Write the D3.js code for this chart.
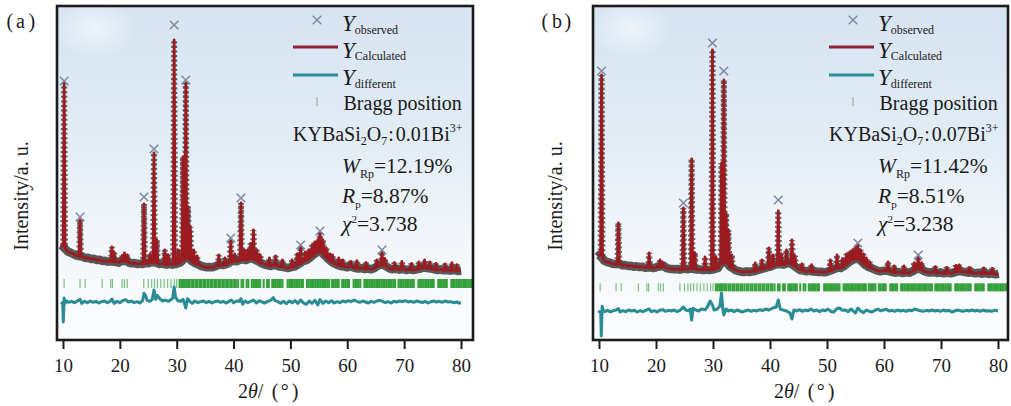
<!DOCTYPE html>
<html>
<head>
<meta charset="utf-8">
<script src="https://cdn.jsdelivr.net/npm/d3@7"></script>
<style>
  html, body { margin: 0; padding: 0; background: #fff; }
  svg { display: block; }
</style>
</head>
<body>
<svg id="chart" width="1011" height="406"></svg>
<script>
// ---------------- data ----------------
const xTicks = [10, 20, 30, 40, 50, 60, 70, 80];
const panelTags = ["a", "b"];
const biContent = ["0.01", "0.07"];
const wRp = ["12.19", "11.42"];
const rP = ["8.87", "8.51"];
const chi2 = ["3.738", "3.238"];

// calculated background between reflections, [2θ, intensity]
const bgA = [
  [9.6,285],[9.9,282],[10.45,272],[10.8,266],[11.3,262],[11.8,258],[12.3,254],[12.7,252],[13.4,250],
  [13.9,246],[14.4,247],[14.9,243],[15.4,244],[15.9,240],[16.4,241],[16.9,237],[17.4,238],[17.9,235],
  [18.3,236],[19.4,234],[19.8,232],[20.1,236],[21.0,238],[21.6,232],[22.1,230],[22.6,231],[23.1,228],
  [23.6,229],[24.0,228],[24.6,232],[25.0,230],[25.6,234],[26.25,233],[26.9,228],[27.4,230],[28.2,226],
  [28.9,228],[29.25,226],[29.9,228],[30.6,232],[30.85,236],[31.35,245],[31.8,250],[32.2,244],[32.7,236],
  [33.3,230],[33.9,226],[34.3,222],[34.8,220],[35.3,218],[35.8,219],[36.3,218],[36.8,221],[37.1,224],
  [37.8,226],[38.2,225],[38.8,228],[39.2,232],[39.85,238],[40.6,236],[40.95,240],[41.6,242],[42.2,240],
  [42.75,244],[43.25,246],[43.8,240],[44.4,236],[44.95,230],[45.5,226],[46.0,224],[46.6,222],[47.1,226],
  [47.8,222],[48.3,220],[49.0,218],[49.6,216],[50.0,218],[50.6,220],[50.95,222],[51.5,228],[52.2,236],
  [52.9,240],[53.5,248],[54.05,256],[54.55,262],[55.0,266],[55.45,264],[56.0,254],[56.6,244],[57.15,236],
  [57.7,230],[58.2,226],[58.8,222],[59.5,220],[60.0,218],[60.3,222],[61.0,218],[61.4,216],[62.0,214],
  [62.6,216],[63.0,213],[63.6,215],[64.2,212],[64.8,216],[65.5,224],[65.8,226],[66.35,226],[66.9,220],
  [67.5,214],[68.0,212],[68.6,214],[69.2,211],[69.9,213],[70.4,210],[71.0,212],[71.6,210],[72.2,212],
  [72.9,214],[73.3,218],[74.0,216],[74.8,214],[75.3,212],[75.9,210],[76.4,212],[77.0,209],[77.6,210],
  [78.1,208],[78.8,210],[79.6,207],[80.0,208]
];
// calculated reflections, [2θ, peak intensity, foot intensity]
const peaksA = [
  [10.2,771,285],[13.0,360,250],[18.6,279,236],[19.0,262,235],[20.4,252,236],[20.8,261,237],[21.3,255,236],
  [24.25,408,229],[25.3,258,231],[26.0,561,233],[26.5,300,232],[27.9,270,228],[28.5,255,227],[29.55,900,228],
  [30.3,270,230],[31.1,549,238],[31.6,771,245],[32.0,400,248],[32.4,339,240],[33.0,270,232],[33.6,252,228],
  [37.4,255,224],[38.5,246,226],[39.5,300,234],[40.2,258,237],[41.3,411,240],[41.9,270,241],[42.5,270,242],
  [43.0,290,244],[43.5,330,244],[44.1,270,238],[44.7,255,232],[46.3,246,223],[47.4,252,224],[48.6,240,219],
  [50.3,240,219],[51.2,258,225],[51.8,279,230],[52.6,264,238],[53.2,270,244],[53.8,285,252],[54.3,294,259],
  [54.8,300,264],[55.2,321,265],[55.7,300,260],[56.3,276,250],[56.9,258,240],[57.4,255,233],[58.5,246,224],
  [59.2,240,221],[60.6,236,220],[61.7,238,216],[63.3,232,214],[65.2,240,220],[66.1,264,225],[66.6,245,224],
  [68.3,232,213],[69.6,236,212],[71.3,230,211],[72.6,234,213],[73.6,240,217],[74.5,234,215],[75.6,230,211],
  [77.2,228,209],[78.4,232,209],[79.3,226,208]
];
// observed maxima drawn as ×, [2θ, intensity]
const obsTopA = [
  [10.2,777],[13.0,369],[24.25,429],[26.0,573],[29.55,945],[31.6,780],[39.5,306],[41.3,426],
  [51.8,285],[55.2,327],[66.1,270]
];
// Yobs − Ycalc, [2θ, residual]
const diffA = [
  [9.65,0],[9.95,-5],[10.05,-60],[10.2,12],[10.4,-3],[10.7,3],[11.0,-1],[11.5,2],[12.0,-2],[12.5,3],
  [13.0,8],[13.3,-4],[13.8,2],[14.3,-2],[14.8,3],[15.3,-1],[15.8,2],[16.3,-3],[16.8,1],[17.3,3],[17.8,-2],
  [18.3,2],[18.6,9],[19.0,-4],[19.5,2],[20.0,-2],[20.5,4],[21.0,7],[21.5,0],[22.0,3],[22.5,-2],[23.0,1],
  [23.5,-3],[24.0,4],[24.25,26],[24.5,20],[24.8,5],[25.3,2],[25.7,8],[26.0,36],[26.3,8],[26.6,20],[27.0,10],
  [27.5,3],[28.0,6],[28.5,2],[29.0,7],[29.3,12],[29.55,45],[29.8,14],[30.2,4],[30.7,2],[31.1,8],[31.4,-6],
  [31.6,-18],[31.9,10],[32.3,2],[32.7,-4],[33.2,3],[33.7,-2],[34.2,1],[34.7,3],[35.2,-2],[35.7,2],[36.2,-3],
  [36.7,1],[37.2,3],[37.7,-1],[38.2,2],[38.7,-3],[39.2,2],[39.6,6],[40.0,-2],[40.5,3],[41.0,2],[41.3,10],
  [41.6,-7],[42.0,3],[42.5,-2],[43.0,2],[43.5,6],[44.0,-3],[44.5,4],[45.0,0],[45.5,-3],[46.0,2],[46.5,5],
  [47.0,13],[47.3,4],[47.8,1],[48.3,-4],[48.8,2],[49.3,-5],[49.8,3],[50.3,-2],[50.8,4],[51.3,-4],[51.8,6],
  [52.3,-3],[52.8,-7],[53.3,3],[53.8,-4],[54.3,5],[54.8,-9],[55.2,7],[55.7,-4],[56.2,3],[56.7,-2],[57.2,4],
  [57.7,-3],[58.2,1],[58.7,-2],[59.2,3],[59.7,0],[60.2,4],[60.7,1],[61.2,6],[61.7,2],[62.2,-1],[62.7,3],
  [63.2,0],[63.7,-3],[64.2,2],[64.7,-1],[65.2,3],[65.7,5],[66.2,2],[66.7,-2],[67.2,1],[67.7,-3],[68.2,2],
  [68.7,0],[69.2,3],[69.7,1],[70.2,4],[70.7,0],[71.2,2],[71.7,-1],[72.2,3],[72.7,1],[73.2,-2],[73.7,2],
  [74.2,-3],[74.7,1],[75.2,3],[75.7,0],[76.2,2],[76.7,-1],[77.2,3],[77.7,0],[78.2,1],[78.7,-2],[79.2,0],
  [79.7,-3],[80.0,-2]
];

const bgB = [
  [9.8,250],[10.05,255],[10.75,242],[10.9,238],[11.4,234],[11.9,232],[12.4,229],[12.9,228],[13.8,227],
  [14.1,224],[14.6,225],[15.1,222],[15.6,223],[16.1,220],[16.6,221],[17.1,219],[17.6,220],[18.1,217],
  [19.1,218],[19.5,216],[19.9,217],[20.3,220],[21.4,222],[21.8,216],[22.3,214],[22.8,213],[23.3,212],
  [23.8,213],[24.2,211],[25.2,214],[25.6,212],[25.9,215],[27.2,211],[27.6,212],[28.2,210],[29.0,211],
  [29.4,210],[30.2,212],[30.9,216],[31.15,224],[31.7,236],[32.1,236],[32.5,230],[33.0,220],[33.6,214],
  [33.9,210],[34.4,207],[34.9,205],[35.4,204],[35.9,206],[36.4,204],[36.9,206],[37.1,206],[37.9,210],
  [38.3,212],[39.2,216],[39.5,218],[40.1,220],[40.9,226],[41.7,228],[42.4,226],[42.65,228],[43.2,232],
  [43.5,230],[44.1,224],[44.9,214],[45.3,210],[45.9,208],[46.4,206],[46.9,208],[47.6,205],[47.9,206],
  [48.5,204],[49.0,205],[49.6,203],[50.2,206],[50.9,210],[51.4,214],[52.1,218],[52.4,216],[53.0,222],
  [53.7,232],[54.25,238],[54.75,242],[55.2,244],[55.65,242],[56.15,234],[56.65,226],[57.2,220],[57.8,216],
  [58.3,212],[58.8,208],[59.4,206],[60.0,208],[60.4,208],[61.0,206],[61.4,204],[62.0,202],[62.6,204],
  [63.2,201],[63.8,203],[64.4,202],[65.0,206],[65.6,212],[66.3,214],[66.9,208],[67.5,204],[68.1,202],
  [68.7,204],[69.3,201],[69.9,203],[70.5,200],[71.3,202],[71.7,200],[72.3,203],[72.9,206],[73.6,206],
  [74.2,204],[74.8,202],[75.4,203],[76.0,200],[76.6,202],[77.2,199],[77.8,201],[78.4,198],[78.8,200],
  [79.6,197],[80.1,199]
];
const peaksB = [
  [10.45,795,255],[13.4,351,228],[18.8,261,217],[20.7,240,219],[21.1,234,220],[24.8,396,212],[26.25,543,214],
  [26.8,262,214],[28.6,249,211],[29.9,870,211],[30.5,250,214],[31.5,531,226],[31.9,780,234],[32.3,380,234],
  [32.7,330,228],[33.3,255,216],[37.4,231,206],[38.6,240,212],[39.8,276,216],[40.5,255,222],[41.45,387,226],
  [42.0,258,227],[42.9,270,230],[43.85,300,228],[44.4,252,222],[45.6,228,210],[47.3,226,205],[50.6,240,208],
  [51.75,255,216],[52.7,244,219],[53.4,258,228],[54.0,264,236],[54.5,270,241],[55.0,276,244],[55.4,285,243],
  [55.9,270,238],[56.4,258,230],[56.9,246,223],[57.5,234,217],[60.7,234,208],[61.8,222,203],[63.5,222,202],
  [65.3,232,210],[66.0,249,213],[66.6,232,212],[69.0,220,203],[71.0,218,201],[72.6,224,205],[73.2,225,206],
  [75.0,218,202],[77.5,216,200],[79.0,215,200]
];
const obsTopB = [
  [10.45,807],[24.8,411],[29.9,891],[31.9,807],[41.45,420],[55.4,291],[66.0,255]
];
const diffB = [
  [9.85,0],[10.3,-4],[10.4,-75],[10.55,14],[10.75,2],[11.0,-2],[11.5,2],[12.0,-3],[12.5,1],[13.0,3],
  [13.4,7],[13.7,-3],[14.2,1],[14.7,-2],[15.2,3],[15.7,0],[16.2,2],[16.7,-3],[17.2,1],[17.7,-2],[18.2,2],
  [18.8,6],[19.2,-2],[19.7,1],[20.2,-3],[20.7,3],[21.2,4],[21.7,-1],[22.2,2],[22.7,0],[23.2,3],[23.7,-2],
  [24.2,2],[24.8,12],[25.2,3],[25.7,1],[26.0,6],[26.25,-27],[26.5,8],[27.0,3],[27.5,0],[28.0,6],[28.6,4],
  [29.0,12],[29.5,30],[29.9,18],[30.2,3],[30.7,5],[31.2,14],[31.5,54],[31.7,9],[31.9,-12],[32.3,6],[32.7,0],
  [33.2,3],[33.7,-2],[34.2,3],[34.7,0],[35.2,-3],[35.7,1],[36.2,3],[36.7,-1],[37.2,2],[37.7,0],[38.2,4],
  [38.7,1],[39.2,6],[39.8,3],[40.5,9],[41.1,12],[41.45,33],[41.8,6],[42.3,3],[42.9,0],[43.5,-6],[43.85,-24],
  [44.2,3],[44.7,0],[45.2,4],[45.7,-1],[46.2,3],[46.7,1],[47.2,6],[47.7,0],[48.2,3],[48.7,-2],[49.2,3],
  [49.7,1],[50.2,6],[50.7,-2],[51.2,-3],[51.7,7],[52.2,9],[52.7,2],[53.2,3],[53.7,-2],[54.2,6],[54.7,-1],
  [55.0,-6],[55.4,9],[55.9,0],[56.4,-5],[56.9,3],[57.4,-1],[57.9,-3],[58.4,2],[58.9,6],[59.4,1],[59.9,3],
  [60.4,5],[60.9,0],[61.4,2],[61.9,-1],[62.4,3],[62.9,0],[63.4,2],[63.9,-1],[64.4,3],[64.9,1],[65.4,6],
  [65.9,3],[66.4,1],[66.9,-1],[67.4,2],[67.9,0],[68.4,3],[68.9,0],[69.4,2],[69.9,-1],[70.4,3],[70.9,0],
  [71.4,2],[71.9,-3],[72.4,0],[72.9,3],[73.4,1],[73.9,-1],[74.4,2],[74.9,0],[75.4,3],[75.9,0],[76.4,2],
  [76.9,-1],[77.4,3],[77.9,0],[78.4,1],[78.9,-1],[79.4,2],[80.0,0]
];

// reflection positions of the KYBaSi2O7 phase (2θ)
const braggPos = [
  10.2,13.0,13.9,16.9,18.4,18.7,20.4,20.8,21.3,24.2,25.0,25.6,26.1,26.6,27.2,27.8,28.4,29.0,29.6,30.0,
  30.5,30.8,31.1,31.4,31.7,32.0,32.3,32.7,33.0,33.4,33.7,34.1,34.4,34.8,35.1,35.5,35.9,36.2,36.6,36.9,
  37.3,37.6,38.0,38.3,38.7,39.0,39.4,39.7,40.1,40.4,40.8,41.4,41.7,42.3,42.6,43.2,43.5,43.8,44.1,44.4,
  44.7,45.3,45.9,46.2,46.8,47.1,47.4,47.7,48.0,48.3,48.6,49.5,49.8,50.1,50.4,50.7,51.0,51.3,51.6,51.9,
  52.2,52.9,53.2,53.5,53.8,54.1,54.4,54.7,55.0,55.3,55.6,55.9,56.2,56.5,56.8,57.3,57.6,57.9,58.2,58.5,
  59.1,59.4,59.7,60.0,60.3,61.1,61.4,61.7,62.0,62.3,63.0,63.3,63.6,63.9,64.2,64.5,64.8,65.1,65.4,65.7,
  66.0,66.3,66.6,66.9,67.2,67.5,67.8,68.1,68.4,69.0,69.3,69.6,69.9,70.2,70.5,70.8,71.1,71.4,71.7,72.5,
  72.8,73.1,73.4,73.7,74.0,74.3,74.6,74.9,75.2,76.0,76.3,76.6,76.9,77.2,77.5,78.3,78.6,78.9,79.2,79.5,
  79.8,80.1,80.4,80.7,81.0,81.3,81.6,81.9
];

// ---------------- drawing ----------------
const SERIF = "'Liberation Serif', 'DejaVu Serif', serif";
const svg = d3.select("#chart");
const defs = svg.append("defs");

const grad = defs.append("linearGradient").attr("id", "plotBg")
  .attr("x1", 0).attr("y1", 0).attr("x2", 0).attr("y2", 1);
[[0, "#d6e4f1"], [0.4, "#e2ecf5"], [0.7, "#f2f6fa"], [1, "#fcfdfe"]]
  .forEach(([o, c]) => grad.append("stop").attr("offset", o).attr("stop-color", c));

const haze = defs.append("radialGradient").attr("id", "haze");
haze.append("stop").attr("offset", 0).attr("stop-color", "#ffffff").attr("stop-opacity", 0.55);
haze.append("stop").attr("offset", 1).attr("stop-color", "#ffffff").attr("stop-opacity", 0);

const panels = [
  { dx: 0,   frame: [57, 473],  xr: [63, 461],  bg: bgA, peaks: peaksA, tops: obsTopA, diff: diffA,
    diffBase: 114, bragg: [156, 183], yLabelX: 28 },
  { dx: 536, frame: [593, 1008], xr: [599, 998], bg: bgB, peaks: peaksB, tops: obsTopB, diff: diffB,
    diffBase: 87,  bragg: [146, 170], yLabelX: 562 }
];

const TOP = 6, BOTTOM = 340;
const DELTA = 0.16;           // half base width of a drawn reflection, in degrees
const RED = "#9c1b20", TEAL = "#2a8c94", GREEN = "#34a03a", XCOL = "#7d8ca4";

function crossPath(s) { return `M${-s},${-s}L${s},${s}M${-s},${s}L${s},${-s}`; }

function profile(bg, peaks) {
  const verts = bg.filter(d => !peaks.some(p => Math.abs(p[0] - d[0]) < DELTA + 0.03)).slice();
  peaks.forEach(p => verts.push([p[0] - DELTA, p[2]], [p[0], p[1]], [p[0] + DELTA, p[2]]));
  return verts.sort((a, b) => a[0] - b[0]);
}

panels.forEach((p, i) => {
  const x = d3.scaleLinear().domain([10, 80]).range(p.xr);
  const y = d3.scaleLinear().domain([0, 1002]).range([BOTTOM, TOP]);
  const g = svg.append("g");
  const [fx0, fx1] = p.frame;

  // plot background and soft haze patch
  g.append("rect").attr("x", fx0).attr("y", TOP).attr("width", fx1 - fx0).attr("height", BOTTOM - TOP)
    .attr("fill", "url(#plotBg)");
  g.append("ellipse").attr("cx", fx0 + 38).attr("cy", TOP + 22).attr("rx", 42).attr("ry", 30)
    .attr("fill", "url(#haze)");

  const clipId = "clip" + i;
  defs.append("clipPath").attr("id", clipId).append("rect")
    .attr("x", fx0).attr("y", TOP).attr("width", fx1 - fx0).attr("height", BOTTOM - TOP);
  const plot = g.append("g").attr("clip-path", `url(#${clipId})`);

  // Bragg reflection markers
  plot.append("g").selectAll("line").data(braggPos).join("line")
    .attr("x1", d => x(d)).attr("x2", d => x(d))
    .attr("y1", y(p.bragg[1])).attr("y2", y(p.bragg[0]))
    .attr("stroke", d => d < 30.3 ? "#7cbf7e" : GREEN)
    .attr("stroke-width", d => d < 30.3 ? 1.2 : 2);

  // difference curve
  plot.append("path").datum(p.diff)
    .attr("d", d3.line().x(d => x(d[0])).y(d => y(d[1] + p.diffBase)))
    .attr("fill", "none").attr("stroke", TEAL).attr("stroke-width", 3)
    .attr("stroke-linejoin", "round");

  // observed scatter band along the background
  plot.append("path").datum(p.bg)
    .attr("d", d3.line().x(d => x(d[0])).y(d => y(d[1])))
    .attr("fill", "none").attr("stroke", "#484646").attr("stroke-width", 8.5)
    .attr("stroke-linejoin", "round").attr("opacity", 0.9);

  // observed points on the reflection flanks
  plot.append("g").selectAll("path").data(p.peaks).join("path")
    .attr("d", d => `M${x(d[0] - DELTA)},${y(d[2])}L${x(d[0])},${y(d[1])}L${x(d[0] + DELTA)},${y(d[2])}`)
    .attr("fill", "none").attr("stroke", "#454545").attr("stroke-width", 6)
    .attr("stroke-dasharray", "2 2.6").attr("opacity", 0.8);

  // calculated profile
  plot.append("path").datum(profile(p.bg, p.peaks))
    .attr("d", d3.line().x(d => x(d[0])).y(d => y(d[1])))
    .attr("fill", "none").attr("stroke", RED).attr("stroke-width", 2.8)
    .attr("stroke-linejoin", "round");

  // observed maxima
  plot.append("g").selectAll("path").data(p.tops).join("path")
    .attr("transform", d => `translate(${x(d[0])},${y(d[1])})`)
    .attr("d", crossPath(4.3)).attr("stroke", XCOL).attr("stroke-width", 1.6).attr("fill", "none");

  // frame
  g.append("rect").attr("x", fx0).attr("y", TOP).attr("width", fx1 - fx0).attr("height", BOTTOM - TOP)
    .attr("fill", "none").attr("stroke", "#1c1c1c").attr("stroke-width", 2.6);

  // x axis
  const ax = g.append("g").attr("transform", `translate(0,${BOTTOM})`)
    .call(d3.axisBottom(x).tickValues(xTicks).tickSize(9).tickPadding(10).tickFormat(d3.format("d")));
  ax.attr("font-family", null).attr("font-size", null);
  ax.select(".domain").remove();
  ax.selectAll(".tick line").attr("stroke", "#1c1c1c").attr("stroke-width", 2);
  ax.selectAll(".tick text").attr("font-size", 19).attr("fill", "#1a1a1a");

  // axis titles
  const xt = g.append("text").attr("x", 238 + p.dx).attr("y", 398).attr("font-size", 20);
  xt.append("tspan").text("2");
  xt.append("tspan").attr("font-style", "italic").text("θ");
  xt.append("tspan").text("/");
  xt.append("tspan").attr("dx", 8.4).text("(");
  xt.append("tspan").attr("dx", 2.3).text("°");
  xt.append("tspan").attr("dx", 3).text(")");

  g.append("text").attr("transform", `translate(${p.yLabelX},196) rotate(-90)`)
    .attr("text-anchor", "middle").attr("font-size", 20).text("Intensity/a. u.");

  // panel tag
  const tg = g.append("text").attr("y", 27.5).attr("font-size", 20);
  tg.append("tspan").attr("x", 6.5 + p.dx - (i ? 1 : 0)).text("(");
  tg.append("tspan").attr("x", 16 + p.dx).text(panelTags[i]);
  tg.append("tspan").attr("x", 28.5 + p.dx).text(")");

  // legend and refinement figures
  const lg = g.append("g");
  const tx = 342 + p.dx, ix = 317 + p.dx, lx0 = 293 + p.dx, lx1 = 338 + p.dx;
  function yEntry(yb, sub) {
    const t = lg.append("text").attr("x", tx).attr("y", yb);
    t.append("tspan").attr("font-style", "italic").attr("font-size", 23).text("Y");
    t.append("tspan").attr("font-size", 12).attr("dy", 2.5).text(sub);
  }
  lg.append("path").attr("transform", `translate(${ix},20)`).attr("d", crossPath(4.3))
    .attr("stroke", XCOL).attr("stroke-width", 1.5).attr("fill", "none");
  yEntry(31, "observed");
  lg.append("line").attr("x1", lx0).attr("x2", lx1).attr("y1", 47).attr("y2", 47)
    .attr("stroke", "#8a2536").attr("stroke-width", 3);
  yEntry(57.5, "Calculated");
  lg.append("line").attr("x1", lx0).attr("x2", lx1).attr("y1", 75).attr("y2", 75)
    .attr("stroke", TEAL).attr("stroke-width", 3);
  yEntry(85, "different");
  lg.append("line").attr("x1", ix).attr("x2", ix).attr("y1", 97).attr("y2", 106)
    .attr("stroke", "#a6b8a8").attr("stroke-width", 1.4);
  lg.append("text").attr("x", tx + 1.5).attr("y", 109.5).attr("font-size", 20).text("Bragg position");

  const f = lg.append("text").attr("x", lx0).attr("y", 141).attr("font-size", 20);
  f.append("tspan").text("KYBaSi");
  f.append("tspan").attr("font-size", 12).attr("dy", 4).text("2");
  f.append("tspan").attr("dy", -4).text("O");
  f.append("tspan").attr("font-size", 12).attr("dy", 4).text("7");
  f.append("tspan").attr("dy", -4).attr("dx", 1).text(":");
  f.append("tspan").attr("dx", 2).text(biContent[i] + "Bi");
  f.append("tspan").attr("font-size", 12).attr("dy", -9).text("3+");

  const w = lg.append("text").attr("x", tx).attr("y", 173).attr("font-size", 21.5);
  w.append("tspan").attr("font-style", "italic").text("W");
  w.append("tspan").attr("font-size", 12).attr("dy", 5).text("Rp");
  w.append("tspan").attr("dy", -5).text("=" + wRp[i] + "%");

  const r = lg.append("text").attr("x", tx).attr("y", 203).attr("font-size", 21.5);
  r.append("tspan").attr("font-style", "italic").text("R");
  r.append("tspan").attr("font-size", 11).attr("dy", 5).text("p");
  r.append("tspan").attr("dy", -5).text("=" + rP[i] + "%");

  const c = lg.append("text").attr("x", tx).attr("y", 231).attr("font-size", 21.5);
  c.append("tspan").attr("font-style", "italic").text("χ");
  c.append("tspan").attr("font-size", 11).attr("dy", -8.5).text("2");
  c.append("tspan").attr("dy", 8.5).text("=" + chi2[i]);
});

// serif typeface for every label
svg.selectAll("text").style("font-family", SERIF).style("fill", "#1a1a1a");
</script>
</body>
</html>
